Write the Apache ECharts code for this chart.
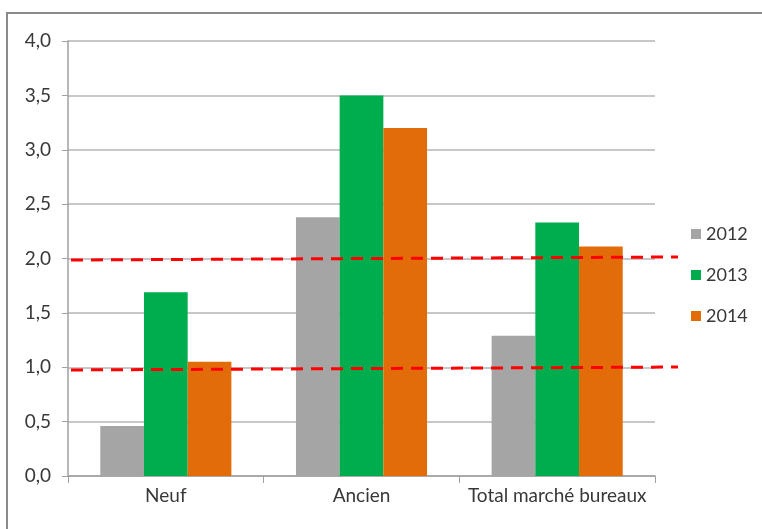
<!DOCTYPE html>
<html>
<head>
<meta charset="utf-8">
<script src="https://cdn.jsdelivr.net/npm/echarts@6/dist/echarts.min.js"></script>
<style>
  html, body { margin: 0; padding: 0; background: #fff; }
  #chart { width: 762px; height: 529px; }
</style>
</head>
<body>
<div id="chart"></div>
<script>
// Market segments and yearly values
const categories = ['Neuf', 'Ancien', 'Total marché bureaux'];
const years = ['2012', '2013', '2014'];
const values2012 = [0.46, 2.38, 1.29];
const values2013 = [1.69, 3.50, 2.33];
const values2014 = [1.05, 3.20, 2.11];
const yTicks = ['0,0', '0,5', '1,0', '1,5', '2,0', '2,5', '3,0', '3,5', '4,0'];

// Reference thresholds (start value, end value) drawn as dashed red lines
const thresholdHigh = [1.986, 2.014];
const thresholdLow = [0.975, 1.002];

const colors = ['#a5a5a5', '#00ad4e', '#e36c0a'];
const font = "Lato, 'Open Sans', sans-serif";
const textColor = '#383838';

const chart = echarts.init(document.getElementById('chart'), null, { renderer: 'canvas' });

function barSeries(name, data, color) {
  return {
    name: name,
    type: 'bar',
    xAxisIndex: 0,
    yAxisIndex: 0,
    data: data,
    barGap: '0%',
    barCategoryGap: '33%',
    itemStyle: { color: color },
    emphasis: { disabled: true }
  };
}

function thresholdSeries(pair) {
  return {
    type: 'line',
    xAxisIndex: 1,
    yAxisIndex: 1,
    data: [[0, pair[0]], [1, pair[1]]],
    symbol: 'none',
    silent: true,
    z: 5,
    lineStyle: { color: '#ff0000', width: 3, type: [12, 8] }
  };
}

chart.setOption({
  animation: false,
  textStyle: { fontFamily: font },
  graphic: [{
    type: 'rect',
    shape: { x: 7, y: 13, width: 900, height: 700 },
    style: { fill: 'none', stroke: '#8a8a8a', lineWidth: 2 },
    silent: true
  }],
  grid: [
    { left: 68, right: 107, top: 41, bottom: 53 },
    { left: 71, right: 84, top: 41, bottom: 53 }
  ],
  legend: {
    orient: 'vertical',
    left: 686,
    top: 220,
    itemWidth: 10,
    itemHeight: 10,
    itemGap: 23,
    icon: 'rect',
    data: years,
    textStyle: { fontSize: 18, color: textColor, fontFamily: font }
  },
  xAxis: [{
    type: 'category',
    gridIndex: 0,
    data: categories,
    axisLine: { lineStyle: { color: '#a0a0a0', width: 1.5 } },
    axisTick: { show: true, length: 7, lineStyle: { color: '#a0a0a0' } },
    axisLabel: {
      fontSize: 19, color: textColor, margin: 10, fontFamily: font,
      interval: 0, hideOverlap: false
    }
  }, {
    type: 'value',
    gridIndex: 1,
    min: 0,
    max: 1,
    show: false
  }],
  yAxis: [{
    type: 'value',
    gridIndex: 0,
    min: 0,
    max: 4,
    interval: 0.5,
    axisLine: { show: true, lineStyle: { color: '#a0a0a0', width: 1.5 } },
    axisTick: { show: true, length: 6, lineStyle: { color: '#a0a0a0' } },
    splitLine: { show: true, lineStyle: { color: '#b4b4b4', width: 1.5 } },
    axisLabel: {
      fontSize: 19,
      color: textColor,
      margin: 17,
      fontFamily: font,
      formatter: function (v) { return yTicks[Math.round(v / 0.5)]; }
    }
  }, {
    type: 'value',
    gridIndex: 1,
    min: 0,
    max: 4,
    show: false
  }],
  series: [
    barSeries(years[0], values2012, colors[0]),
    barSeries(years[1], values2013, colors[1]),
    barSeries(years[2], values2014, colors[2]),
    thresholdSeries(thresholdHigh),
    thresholdSeries(thresholdLow)
  ]
});
</script>
</body>
</html>
